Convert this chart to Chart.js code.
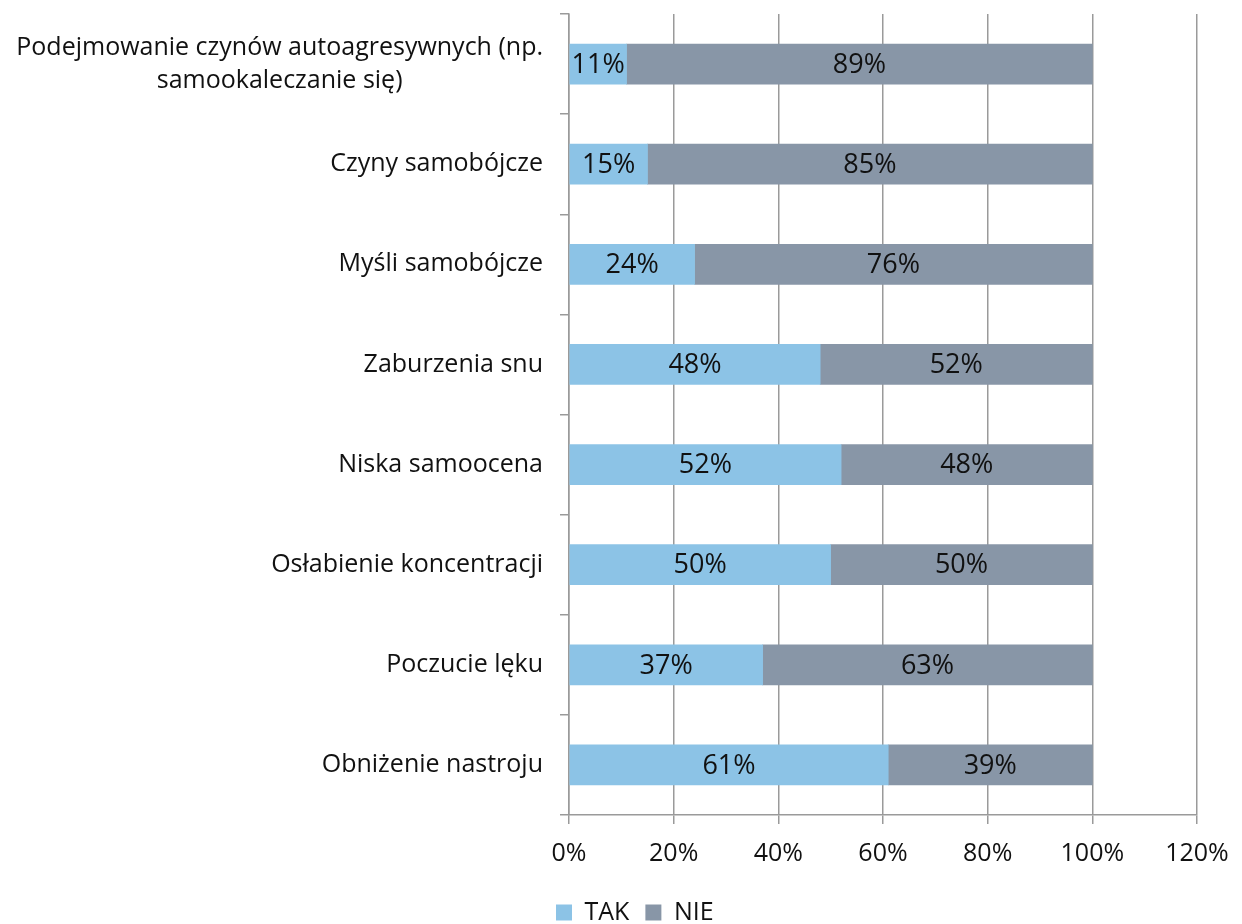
<!DOCTYPE html>
<html>
<head>
  <meta charset="UTF-8">
  <title>Objawy</title>
  <script src="https://cdn.jsdelivr.net/npm/chart.js"></script>
  <style>
    body { margin: 0; background: #fff; }
    canvas { display: block; }
  </style>
</head>
<body>
  <canvas id="objawyChart" width="1242" height="924"></canvas>
  <script>
    // kategorie od góry do dołu
    const kategorie = [
      ['Podejmowanie czynów autoagresywnych (np.', 'samookaleczanie się)'],
      'Czyny samobójcze',
      'Myśli samobójcze',
      'Zaburzenia snu',
      'Niska samoocena',
      'Osłabienie koncentracji',
      'Poczucie lęku',
      'Obniżenie nastroju'
    ];
    const tak = [11, 15, 24, 48, 52, 50, 37, 61];
    const nie = [89, 85, 76, 52, 48, 50, 63, 39];
    const osX = [0, 20, 40, 60, 80, 100, 120];

    const FONT = '"Open Sans", "Noto Sans", sans-serif';
    const TEKST = '#111';

    // procenty na środku każdego segmentu
    const etykiety = {
      id: 'etykiety',
      afterDatasetsDraw(chart) {
        const ctx = chart.ctx;
        ctx.save();
        ctx.font = '27px ' + FONT;
        ctx.fillStyle = TEKST;
        ctx.textAlign = 'center';
        ctx.textBaseline = 'middle';
        chart.data.datasets.forEach((ds, i) => {
          chart.getDatasetMeta(i).data.forEach((bar, j) => {
            const x = (bar.x + bar.base) / 2;
            ctx.fillText(ds.data[j] + '%', x, bar.y + 1);
          });
        });
        ctx.restore();
      }
    };

    // opisy kategorii: blok wyrównany do prawej, wiersze wyśrodkowane
    const opisy = {
      id: 'opisy',
      afterDraw(chart) {
        const ctx = chart.ctx;
        const y = chart.scales.y;
        const prawo = chart.chartArea.left - 26;
        ctx.save();
        ctx.font = '25px ' + FONT;
        ctx.fillStyle = TEKST;
        ctx.textBaseline = 'middle';
        ctx.textAlign = 'center';
        kategorie.forEach((k, i) => {
          const wiersze = Array.isArray(k) ? k : [k];
          const szer = Math.max(...wiersze.map(w => ctx.measureText(w).width));
          const srodek = prawo - szer / 2;
          const cy = y.getPixelForTick(i);
          const lh = 33;
          wiersze.forEach((w, n) => {
            ctx.fillText(w, srodek, cy + (n - (wiersze.length - 1) / 2) * lh);
          });
        });
        ctx.restore();
      }
    };

    new Chart(document.getElementById('objawyChart'), {
      type: 'bar',
      data: {
        labels: kategorie,
        datasets: [
          { label: 'TAK', data: tak, backgroundColor: '#8CC3E6', barThickness: 40 },
          { label: 'NIE', data: nie, backgroundColor: '#8896A7', barThickness: 40 }
        ]
      },
      options: {
        indexAxis: 'y',
        responsive: false,
        animation: false,
        layout: { padding: { left: 540, right: 45, top: 14, bottom: -11 } },
        scales: {
          x: {
            stacked: true,
            min: 0,
            max: 120,
            afterBuildTicks: s => { s.ticks = osX.map(v => ({ value: v })); },
            afterFit: s => { s.paddingLeft = 0; s.paddingRight = 0; },
            grid: { color: '#9a9a9a', lineWidth: 1.5, tickLength: 9 },
            border: { color: '#9a9a9a', width: 1.5 },
            ticks: {
              color: TEKST,
              padding: 15,
              font: { family: FONT, size: 25 },
              callback: v => v + '%'
            }
          },
          y: {
            stacked: true,
            afterFit: s => { s.width = 29; },
            grid: { drawOnChartArea: false, color: '#9a9a9a', lineWidth: 1.5, tickLength: 9, offset: true },
            border: { color: '#9a9a9a', width: 1.5 },
            ticks: { display: false }
          }
        },
        plugins: {
          legend: {
            position: 'bottom',
            align: 'start',
            labels: {
              color: TEKST,
              font: { family: FONT, size: 25 },
              boxWidth: 16,
              boxHeight: 16,
              padding: 16
            }
          },
          tooltip: { enabled: false }
        }
      },
      plugins: [etykiety, opisy]
    });
  </script>
</body>
</html>
